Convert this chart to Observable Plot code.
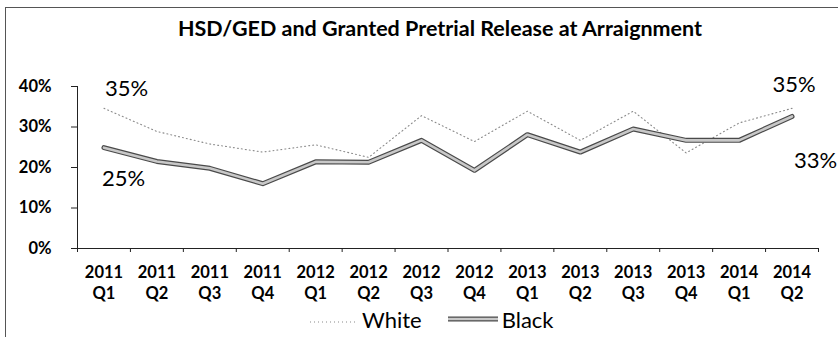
<!DOCTYPE html>
<html>
<head>
<meta charset="utf-8">
<script src="https://cdn.jsdelivr.net/npm/d3@7"></script>
<script src="https://cdn.jsdelivr.net/npm/@observablehq/plot@0.6"></script>
<style>
  html, body { margin: 0; padding: 0; background: #fff; width: 838px; height: 337px; overflow: hidden; }
  body { position: relative; font-family: Lato, "Open Sans", sans-serif; color: #000; }
  #frame { position: absolute; left: 5px; top: 7px; width: 900px; height: 400px; border: 1px solid #555; box-sizing: border-box; }
  #title { position: absolute; left: 440px; top: 15px; transform: translateX(-50%); white-space: nowrap;
           font-size: 21.5px; font-weight: bold; line-height: 26px; }
  #chart { position: absolute; left: 0; top: 40px; }
  #legend { position: absolute; left: 308px; top: 306px; display: flex; align-items: center; font-size: 22px; line-height: 27px; }
  #legend svg { display: block; }
</style>
</head>
<body>
<div id="frame"></div>
<div id="title">HSD/GED and Granted Pretrial Release at Arraignment</div>
<div id="chart"></div>
<div id="legend"></div>
<script>
// ---- data ----
const years    = ["2011","2011","2011","2011","2012","2012","2012","2012","2013","2013","2013","2013","2014","2014"];
const quarters = ["Q1","Q2","Q3","Q4","Q1","Q2","Q3","Q4","Q1","Q2","Q3","Q4","Q1","Q2"];
const white = [34.6, 28.9, 25.8, 23.8, 25.6, 22.5, 32.8, 26.4, 33.9, 26.7, 33.9, 23.6, 31.0, 34.6];
const black = [24.9, 21.5, 19.8, 16.0, 21.4, 21.3, 26.7, 19.3, 28.1, 23.8, 29.5, 26.7, 26.7, 32.6];
const yTicks = [0, 10, 20, 30, 40];
const seriesNames = ["White", "Black"];
const labelText = {whiteFirst: "35%", blackFirst: "25%", whiteLast: "35%", blackLast: "33%"};

const idx = years.map((_, i) => i);
const whiteData = idx.map(i => ({i, v: white[i]}));
const blackData = idx.map(i => ({i, v: black[i]}));
const n = years.length;
const bounds = d3.range(n + 1).map(k => k - 0.5);

const chart = Plot.plot({
  width: 838,
  height: 270,
  marginLeft: 77,
  marginRight: 20,
  marginTop: 46,
  marginBottom: 62,
  style: {fontFamily: "Lato, 'Open Sans', sans-serif", fontSize: "16.5px", fontWeight: "bold", color: "#000", background: "transparent", overflow: "visible"},
  x: {type: "linear", domain: [-0.5, n - 0.5]},
  y: {domain: [0, 40]},
  marks: [
    Plot.ruleY([0], {stroke: "#222", strokeWidth: 1.2}),
    Plot.ruleX([-0.5], {y1: 0, y2: 40, stroke: "#222", strokeWidth: 1}),
    Plot.axisY({ticks: yTicks, tickFormat: d => d + "%", tickSize: 6, tickPadding: 20, label: null, stroke: "#222"}),
    Plot.axisX({ticks: bounds, tickFormat: () => "", tickSize: 4, label: null, stroke: "#222"}),
    Plot.axisX({ticks: idx, tickFormat: i => years[i] + "\n" + quarters[i], tickSize: 0, tickPadding: 14, lineHeight: 1.3, label: null}),
    Plot.line(whiteData, {x: "i", y: "v", stroke: "#8a8a8a", strokeWidth: 1.1, strokeDasharray: "1 3"}),
    Plot.line(blackData, {x: "i", y: "v", stroke: "#4a4a4a", strokeWidth: 5}),
    Plot.line(blackData, {x: "i", y: "v", stroke: "#c8c8c8", strokeWidth: 2.6}),
    Plot.text([whiteData[0]], {x: "i", y: "v", text: () => labelText.whiteFirst, textAnchor: "start", dx: 1, dy: -19, fontSize: 22, fontWeight: "normal", fill: "#000"}),
    Plot.text([blackData[0]], {x: "i", y: "v", text: () => labelText.blackFirst, textAnchor: "start", dx: -2, dy: 31, fontSize: 22, fontWeight: "normal", fill: "#000"}),
    Plot.text([whiteData[n - 1]], {x: "i", y: "v", text: () => labelText.whiteLast, textAnchor: "middle", dx: 2, dy: -23, fontSize: 22, fontWeight: "normal", fill: "#000"}),
    Plot.text([blackData[n - 1]], {x: "i", y: "v", text: () => labelText.blackLast, textAnchor: "end", dx: 45, dy: 44, fontSize: 22, fontWeight: "normal", fill: "#000"})
  ]
});
document.getElementById("chart").appendChild(chart);

// ---- legend ----
const legend = document.getElementById("legend");
function swatch(kind) {
  const s = d3.create("svg").attr("width", 50).attr("height", 12);
  if (kind === "White") {
    s.append("line").attr("x1", 2).attr("x2", 48).attr("y1", 8).attr("y2", 8)
      .attr("stroke", "#8a8a8a").attr("stroke-width", 1.1).attr("stroke-dasharray", "1 3");
  } else {
    s.append("line").attr("x1", 0).attr("x2", 50).attr("y1", 5).attr("y2", 5).attr("stroke", "#4a4a4a").attr("stroke-width", 5);
    s.append("line").attr("x1", 0).attr("x2", 50).attr("y1", 5).attr("y2", 5).attr("stroke", "#c8c8c8").attr("stroke-width", 2.6);
  }
  return s.node();
}
seriesNames.forEach((name, k) => {
  const sw = swatch(name);
  sw.style.marginLeft = k === 0 ? "0px" : "26px";
  sw.style.marginRight = "4px";
  legend.appendChild(sw);
  const t = document.createElement("span");
  t.textContent = name;
  legend.appendChild(t);
});
</script>
</body>
</html>
